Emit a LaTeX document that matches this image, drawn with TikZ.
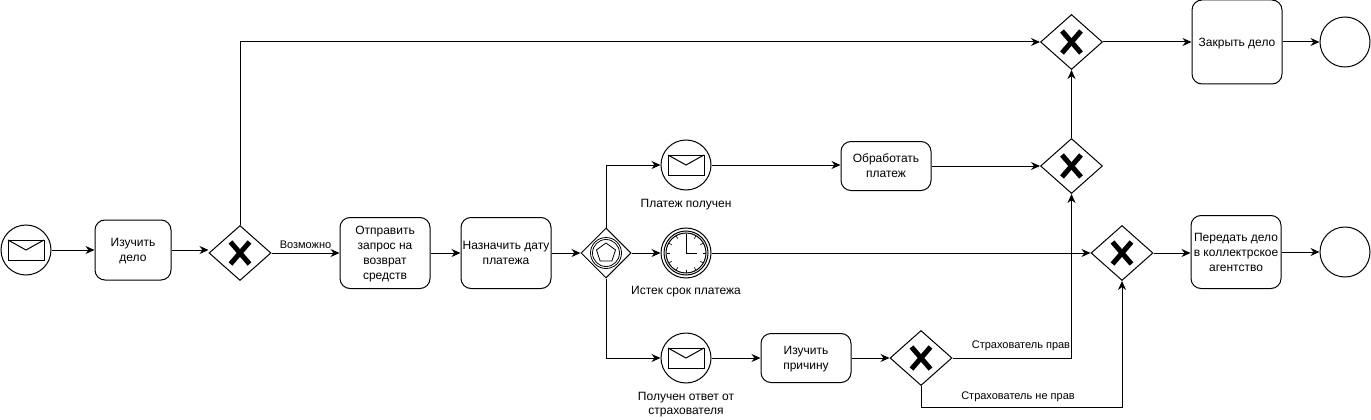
\documentclass[tikz,border=0pt]{standalone}
\usepackage{fontspec}
\setmainfont{Liberation Sans}
\usetikzlibrary{arrows.meta,shapes.geometric}

\begin{document}
\begin{tikzpicture}[x=1pt, y=-1pt, line width=1pt, >={Stealth[length=9pt,width=8pt]},
		task/.style={draw, rounded corners=10pt, minimum width=90pt, align=center, font=\fontsize{12}{15}\selectfont, inner sep=0pt, text depth=0pt},
		gate/.style={draw, diamond, minimum width=62pt, minimum height=55pt, inner sep=0pt,
			path picture={
				\draw[line width=5pt] (path picture bounding box.center) +(-9.5pt,-11pt) -- +(9.5pt,11pt);
				\draw[line width=5pt] (path picture bounding box.center) +(9.5pt,-11pt) -- +(-9.5pt,11pt);
			}},
		eventgate/.style={draw, diamond, minimum width=50pt, minimum height=50pt, inner sep=0pt,
			path picture={
				\draw[line width=.8pt] (path picture bounding box.center) circle (15.5pt) circle (13.5pt);
				\draw[line width=.8pt] (path picture bounding box.center) +(90:10pt) -- +(162:10pt) -- +(234:10pt) -- +(306:10pt) -- +(18:10pt) -- cycle;
			}},
		event/.style={draw, circle, minimum size=50pt, inner sep=0pt},
		msg/.style={event,
			path picture={
				\draw (path picture bounding box.center) +(-18pt,10pt) rectangle +(18pt,-10pt);
				\draw (path picture bounding box.center) +(-18pt,10pt) -- +(0pt,0pt) -- +(18pt,10pt);
			}},
		timer/.style={event,
			path picture={
				\draw (path picture bounding box.center) circle (22pt) circle (20pt);
				\foreach \a in {0,30,...,330}
					\draw[line width=.6pt] (path picture bounding box.center) +(\a:16.5pt) -- +(\a:19.5pt);
				\draw (path picture bounding box.center) +(0pt,17pt) -- +(0pt,0pt) -- +(11pt,0pt);
			}},
		label/.style={font=\fontsize{12}{14}\selectfont, align=center, inner sep=0pt},
		flowlabel/.style={font=\fontsize{11}{13}\selectfont, inner sep=0pt}]
	\useasboundingbox (0,0) rectangle (1371,420);

	% top row
	\node[gate] (xorTop) at (1071.5,42) {};
	\node[task, minimum height=84pt] (close) at (1237,42) {Закрыть дело};
	\node[event] (endTop) at (1345,42) {};

	% upper branch
	\node[msg] (paid) at (686,165) {};
	\node[label] (paidLabel) at (686,205) {Платеж получен};
	\node[task, minimum height=49pt] (process) at (886,166) {Обработать\\платеж};
	\node[gate] (xorMid) at (1071.5,166) {};

	% main row
	\node[msg] (start) at (26,250) {};
	\node[task, minimum width=76pt, minimum height=60pt] (study) at (133,250) {Изучить\\дело};
	\node[gate] (xorFirst) at (240,253) {};
	\node[task, minimum height=71pt] (request) at (385,253) {Отправить\\запрос на\\возврат\\средств};
	\node[task, minimum height=71pt] (setdate) at (506,253) {Назначить дату\\платежа};
	\node[eventgate] (wait) at (606,253) {};
	\node[timer] (overdue) at (686,253) {};
	\node[label] (overdueLabel) at (686,292) {Истек срок платежа};
	\node[gate] (xorAgency) at (1122,253) {};
	\node[task, minimum height=73pt] (agency) at (1236,252) {Передать дело\\в коллектрское\\агентство};
	\node[event] (endAgency) at (1345,252) {};

	% lower branch
	\node[msg] (answer) at (686,358) {};
	\node[label] (answerLabel) at (686,405) {Получен ответ от\\страхователя};
	\node[task, minimum height=49pt] (cause) at (806,358) {Изучить\\причину};
	\node[gate] (xorLow) at (921,358) {};
	\coordinate (lowTurn) at (1122,407);

	% connectors
	\draw[->] (start) -- (study);
	\draw[->] (study.east) -- (xorFirst.west |- study.east);
	\draw[->] (xorFirst.east) -- (request.west |- xorFirst.east) node[flowlabel, pos=.5, above=4pt] (possible) {Возможно};
	\draw[->] (xorFirst.north) |- (xorTop.west);
	\draw[->] (request) -- (setdate);
	\draw[->] (setdate) -- (wait);
	\draw[->] (wait.north) |- (paid.west);
	\draw[->] (wait) -- (overdue);
	\draw[->] (wait.south) |- (answer.west);
	\draw[->] (paid) -- (process.west |- paid);
	\draw[->] (process.east |- xorMid) -- (xorMid.west);
	\draw[->] (xorMid.north) -- (xorTop.south);
	\draw[->] (xorTop) -- (close);
	\draw[->] (close) -- (endTop);
	\draw[->] (overdue) -- (xorAgency);
	\draw[->] (xorAgency.east) -- (agency.west |- xorAgency.east);
	\draw[->] (agency) -- (endAgency);
	\draw[->] (answer) -- (cause);
	\draw[->] (cause) -- (xorLow);
	\draw[->] (xorLow.east) -| (xorMid.south);
	\node[flowlabel] (right) at (1021,345.5) {Страхователь прав};
	\draw[->] (xorLow.south) |- (lowTurn) -- (xorAgency.south);
	\node[flowlabel] (wrong) at (1018,397) {Страхователь не прав};
\end{tikzpicture}
\end{document}
